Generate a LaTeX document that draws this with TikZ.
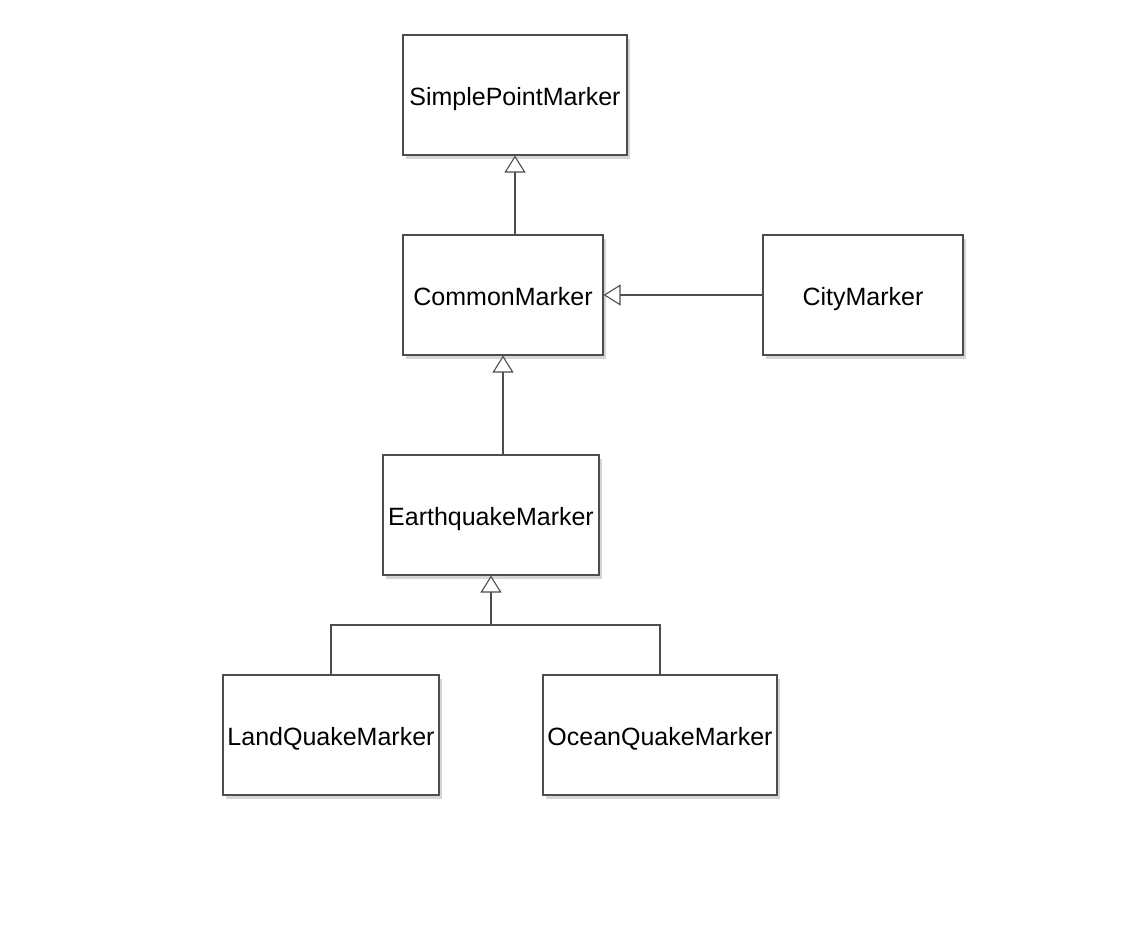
\documentclass[tikz,border=0pt]{standalone}
\usepackage{fontspec}
\setmainfont{Liberation Sans}
\usetikzlibrary{arrows.meta,shadows,positioning}
\definecolor{edge}{HTML}{4D4D4D}
\tikzset{
  cls/.style={draw=edge, line width=1.1pt, fill=white, minimum height=120pt, inner sep=0pt,
    font=\fontsize{25}{28}\selectfont, text height=21pt, text depth=0pt,
    drop shadow={shadow xshift=3pt, shadow yshift=-4pt, opacity=0.3, fill=black!55}},
  inh/.style={draw=edge, line width=1.1pt, -{Triangle[open, length=17pt, width=21pt, fill=white]}},
}
\begin{document}
\begin{tikzpicture}[x=1pt,y=-1pt]
\useasboundingbox (0,0) rectangle (1130,928);
\node[cls, minimum width=224pt] (spm) at (515,95) {SimplePointMarker};
\node[cls, minimum width=200pt] (cm) at (503,295) {CommonMarker};
\node[cls, minimum width=200pt] (city) at (863,295) {CityMarker};
\node[cls, minimum width=216pt] (eq) at (491,515) {EarthquakeMarker};
\node[cls, minimum width=216pt] (land) at (331,735) {LandQuakeMarker};
\node[cls, minimum width=234pt] (ocean) at (660,735) {OceanQuakeMarker};
\coordinate (j) at (491,625);
\draw[inh] (cm.north -| spm.south) -- (spm.south);
\draw[inh] (city.west) -- (cm.east);
\draw[inh] (eq.north -| cm.south) -- (cm.south);
\draw[inh] (j) -- (eq.south);
\draw[draw=edge, line width=1.1pt] (land.north) |- (j) -| (ocean.north);
\end{tikzpicture}
\end{document}
